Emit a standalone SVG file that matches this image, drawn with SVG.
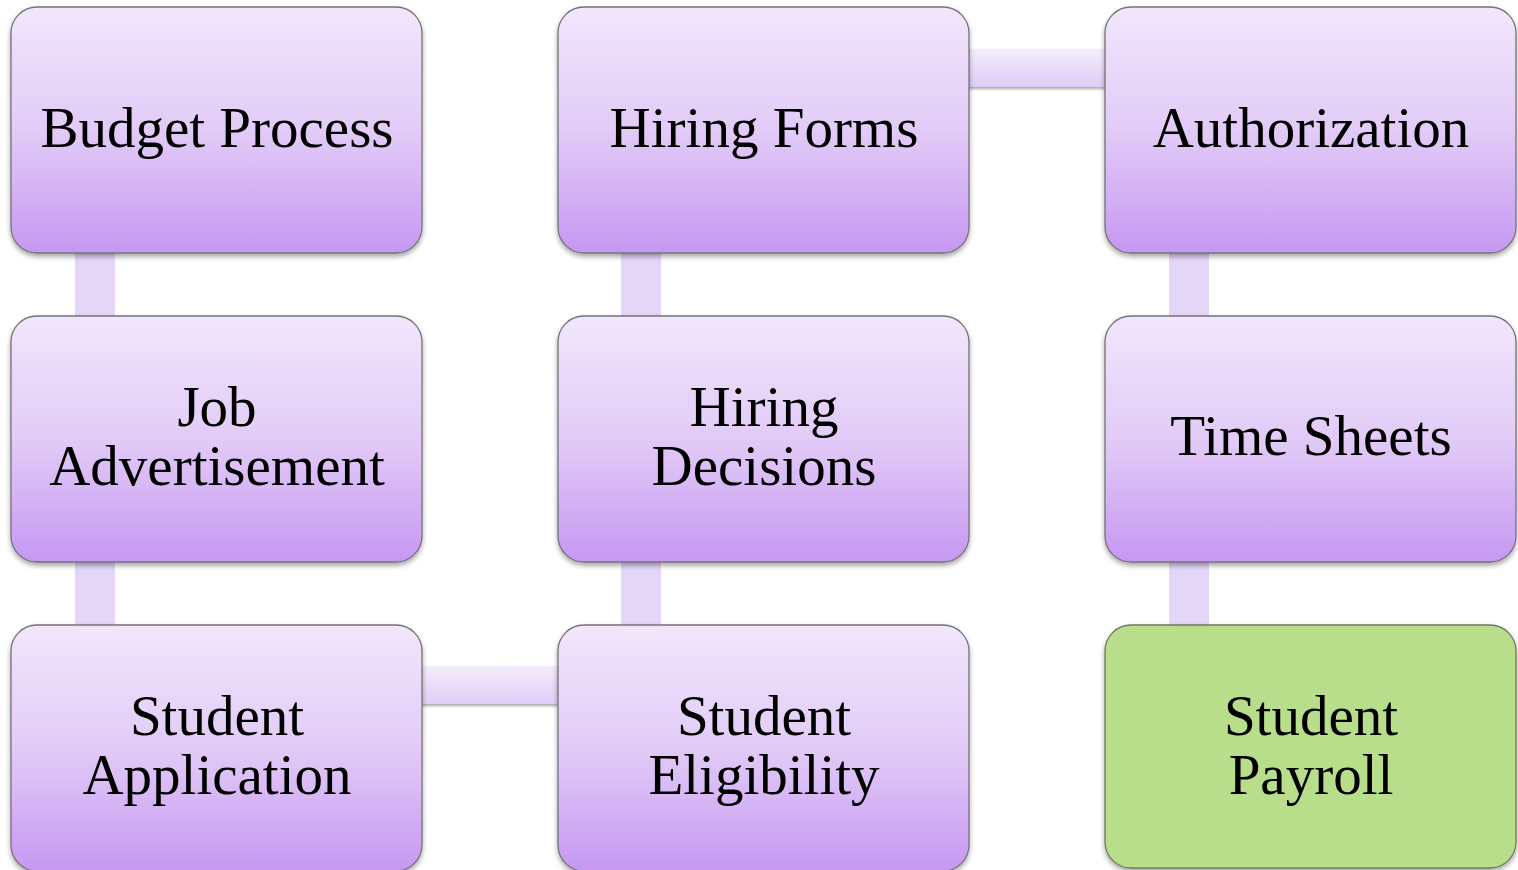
<svg xmlns="http://www.w3.org/2000/svg" width="1518" height="870" viewBox="0 0 1518 870">
  <defs>
    <linearGradient id="boxFill" x1="0" y1="0" x2="0" y2="1">
      <stop offset="0" stop-color="#f1e7fc"/>
      <stop offset="0.5" stop-color="#e2cbf7"/>
      <stop offset="1" stop-color="#c698f2"/>
    </linearGradient>
    <linearGradient id="barH" x1="0" y1="0" x2="0" y2="1">
      <stop offset="0" stop-color="#f4edfd"/>
      <stop offset="1" stop-color="#dfcdf6"/>
    </linearGradient>
    <filter id="shadow" x="-5%" y="-5%" width="110%" height="115%">
      <feDropShadow dx="0" dy="3" stdDeviation="2.5" flood-color="#000" flood-opacity="0.35"/>
    </filter>
    <filter id="barShadow" x="-5%" y="-20%" width="110%" height="160%">
      <feDropShadow dx="0" dy="2" stdDeviation="1.5" flood-color="#000" flood-opacity="0.35"/>
    </filter>
  </defs>
  <style>
    .box { fill: url(#boxFill); stroke: #747278; stroke-width: 1.3; filter: url(#shadow); }
    .box.final { fill: #b8dd8b; stroke: #6d7a60; }
    .vbar { fill: #e4d6f7; }
    .hbar { fill: url(#barH); filter: url(#barShadow); }
    .label { font-family: "Liberation Serif", "DejaVu Serif", serif; font-size: 57px; fill: #000; text-anchor: middle; }
  </style>

  <rect width="1518" height="870" fill="#ffffff"/>

  <!-- connectors -->
  <g id="connectors">
    <rect class="vbar" x="75" y="250" width="40" height="70"/>
    <rect class="vbar" x="75" y="559" width="40" height="70"/>
    <rect class="vbar" x="621" y="250" width="40" height="70"/>
    <rect class="vbar" x="621" y="559" width="40" height="70"/>
    <rect class="vbar" x="1169" y="250" width="40" height="70"/>
    <rect class="vbar" x="1169" y="559" width="40" height="70"/>
    <rect class="hbar" x="420" y="666" width="140" height="38"/>
    <rect class="hbar" x="967" y="49" width="140" height="38"/>
  </g>

  <!-- column 1 -->
  <g id="budget-process">
    <rect class="box" x="11" y="7" width="411" height="246" rx="26"/>
    <text class="label" x="217" y="147">Budget Process</text>
  </g>
  <g id="job-advertisement">
    <rect class="box" x="11" y="316" width="411" height="246" rx="26"/>
    <text class="label" x="217" y="426">Job</text>
    <text class="label" x="217" y="485">Advertisement</text>
  </g>
  <g id="student-application">
    <rect class="box" x="11" y="625" width="411" height="246" rx="26"/>
    <text class="label" x="217" y="735">Student</text>
    <text class="label" x="217" y="794">Application</text>
  </g>

  <!-- column 2 -->
  <g id="hiring-forms">
    <rect class="box" x="558" y="7" width="411" height="246" rx="26"/>
    <text class="label" x="764" y="147">Hiring Forms</text>
  </g>
  <g id="hiring-decisions">
    <rect class="box" x="558" y="316" width="411" height="246" rx="26"/>
    <text class="label" x="764" y="426">Hiring</text>
    <text class="label" x="764" y="485">Decisions</text>
  </g>
  <g id="student-eligibility">
    <rect class="box" x="558" y="625" width="411" height="246" rx="26"/>
    <text class="label" x="764" y="735">Student</text>
    <text class="label" x="764" y="794">Eligibility</text>
  </g>

  <!-- column 3 -->
  <g id="authorization">
    <rect class="box" x="1105" y="7" width="411" height="246" rx="26"/>
    <text class="label" x="1311" y="147">Authorization</text>
  </g>
  <g id="time-sheets">
    <rect class="box" x="1105" y="316" width="411" height="246" rx="26"/>
    <text class="label" x="1311" y="455">Time Sheets</text>
  </g>
  <g id="student-payroll">
    <rect class="box final" x="1105" y="625" width="411" height="243" rx="26"/>
    <text class="label" x="1311" y="735">Student</text>
    <text class="label" x="1311" y="794">Payroll</text>
  </g>
</svg>
